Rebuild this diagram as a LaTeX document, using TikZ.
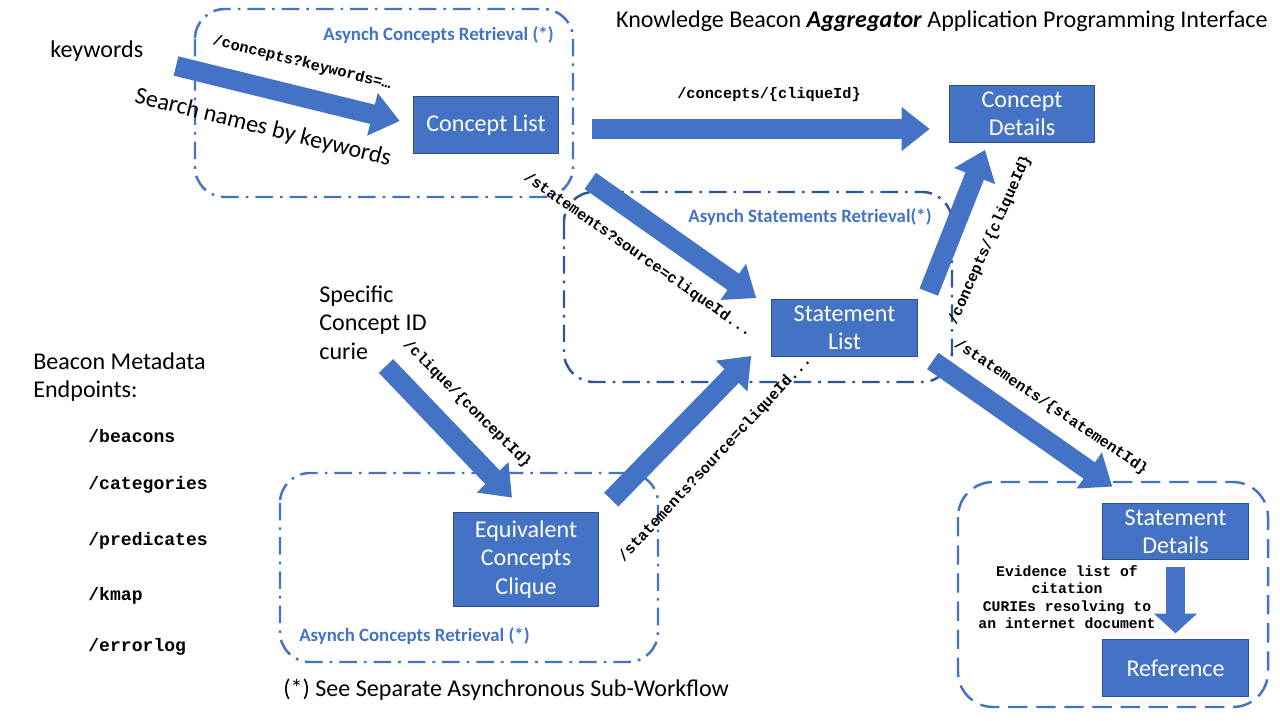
\documentclass[tikz,border=0pt]{standalone}
\usepackage{fontspec}
\setmainfont{Carlito}
\setmonofont{Liberation Mono}
\usetikzlibrary{positioning,arrows.meta,calc}
\definecolor{boxblue}{HTML}{4472C4}
\definecolor{boxedge}{HTML}{2F528F}
\definecolor{frameblue}{HTML}{2F5597}

\begin{document}
\begin{tikzpicture}[x=0.02cm,y=-0.02cm,font=\fontsize{13.7}{16}\selectfont,
  box/.style={draw=boxedge,line width=0.6pt,fill=boxblue,text=white,align=center,
    minimum width=82.8pt,minimum height=32.3pt,inner sep=0pt},
  blockarrow/.style={boxblue,line width=11.3pt,-{Triangle[width=24pt,length=16pt]}},
  urllabel/.style={font=\ttfamily\bfseries\fontsize{8.7}{10}\selectfont,inner sep=0pt},
  grouplabel/.style={text=boxblue,font=\bfseries\fontsize{10.7}{12}\selectfont,inner sep=0pt},
  asyncframe/.style={line width=1.4pt,rounded corners=17pt,
    dash pattern=on 10pt off 4pt on 1.5pt off 4pt}]
  \useasboundingbox (0,0) rectangle (1280,720);

  % asynchronous groups
  \draw[asyncframe,boxblue] (195,9) rectangle (573,197);
  \draw[asyncframe,frameblue] (564,192) rectangle (952,382);
  \draw[asyncframe,boxblue] (280,473) rectangle (658,662);
  \draw[boxblue,line width=1.4pt,rounded corners=20pt,dash pattern=on 11pt off 5pt] (958,482) rectangle (1268,707);
  \node[grouplabel,anchor=east] (grpconcepts) at (554,35) {Asynch Concepts Retrieval (*)};
  \node[grouplabel,anchor=east] (grpstatements) at (932,217) {Asynch Statements Retrieval(*)};
  \node[grouplabel,anchor=west] (grpclique) at (299,636) {Asynch Concepts Retrieval (*)};

  % endpoint boxes
  \node[box] (conceptlist) at (486,125) {Concept List};
  \node[box] (conceptdetails) at (1022,114) {Concept\\Details};
  \node[box] (statementlist) at (844.5,328) {Statement\\List};
  \node[box,minimum height=53.9pt] (clique) at (526,559.5) {Equivalent\\Concepts\\Clique};
  \node[box] (stmtdetails) at (1175.5,531.5) {Statement\\Details};
  \node[box] (reference) [below=1.58cm of stmtdetails] {Reference};

  % plain texts
  \node[anchor=east,inner sep=0pt] (title) at (1268,21)
        {Knowledge Beacon \textbf{\textit{Aggregator}} Application Programming Interface};
  \node[anchor=west,inner sep=0pt] (keywords) at (50,51) {keywords};
  \node[rotate=-14,inner sep=0pt] (searchnames) at (263,128) {Search names by keywords};
  \node[anchor=north west,align=left,inner sep=0pt,font=\fontsize{13.7}{16.4}\selectfont] (curie) at (319,285)
        {Specific\\Concept ID\\curie};
  \node[anchor=north west,align=left,inner sep=0pt] (metadata) at (33,352) {Beacon Metadata\\Endpoints:};
  \node[urllabel,font=\ttfamily\bfseries\fontsize{10.3}{12}\selectfont,anchor=west] (beacons) at (88,436) {/beacons};
  \node[urllabel,font=\ttfamily\bfseries\fontsize{10.3}{12}\selectfont,anchor=west] (categories) at (88,485) {/categories};
  \node[urllabel,font=\ttfamily\bfseries\fontsize{10.3}{12}\selectfont,anchor=west] (predicates) at (88,541) {/predicates};
  \node[urllabel,font=\ttfamily\bfseries\fontsize{10.3}{12}\selectfont,anchor=west] (kmap) at (88,596) {/kmap};
  \node[urllabel,font=\ttfamily\bfseries\fontsize{10.3}{12}\selectfont,anchor=west] (errorlog) at (88,647) {/errorlog};
  \node[anchor=west,inner sep=0pt] (footnote) at (283,690) {(*) See Separate Asynchronous Sub-Workflow};
  \node[urllabel,font=\ttfamily\bfseries\fontsize{8.4}{9.8}\selectfont,align=center] (evidence) at (1067,597)
        {Evidence list of\\citation\\CURIEs resolving to\\an internet document};

  % block arrows
  \coordinate (kwtail) at (176,66);
  \coordinate (curietail) at (386,366);
  \draw[blockarrow] (kwtail) -- ($(conceptlist.west)+(-13,-4)$);
  \draw[blockarrow] ($(conceptlist.east)+(33,4)$) -- ($(conceptdetails.west)+(-19,15)$);
  \draw[blockarrow] ($(conceptlist.south east)+(31,27)$) -- ($(statementlist.north west)+(-15,-1)$);
  \draw[blockarrow] ($(statementlist.north east)+(11,-7)$) -- ($(conceptdetails.south)+(-37,7)$);
  \draw[blockarrow] ($(statementlist.south east)+(15,4)$) -- ($(stmtdetails.north west)+(10,-16)$);
  \draw[blockarrow] (curietail) -- ($(clique.north)+(-14,-14)$);
  \draw[blockarrow] ($(clique.north east)+(12,-12)$) -- ($(statementlist.south west)+(-20,-1)$);
  \draw[blockarrow,-{Triangle[width=24pt,length=11.3pt]}] ($(stmtdetails.south)+(0,7)$) -- ($(reference.north)+(0,-6)$);

  % request labels
  \node[urllabel,rotate=-14] (kwquery) at (302,63) {/concepts?keywords=…};
  \node[urllabel] (conceptget) at (769,95) {/concepts/\{cliqueId\}};
  \node[urllabel,rotate=-35] (stmtquery) at (638,255) {/statements?source=cliqueId...};
  \node[urllabel,rotate=66] (conceptback) at (990,240) {/concepts/\{cliqueId\}};
  \node[urllabel,rotate=-34] (stmtget) at (1051,407) {/statements/\{statementId\}};
  \node[urllabel,rotate=-45] (cliqueget) at (467,404) {/clique/\{conceptId\}};
  \node[urllabel,rotate=47] (cliquequery) at (715,459) {/statements?source=cliqueId...};
\end{tikzpicture}
\end{document}
